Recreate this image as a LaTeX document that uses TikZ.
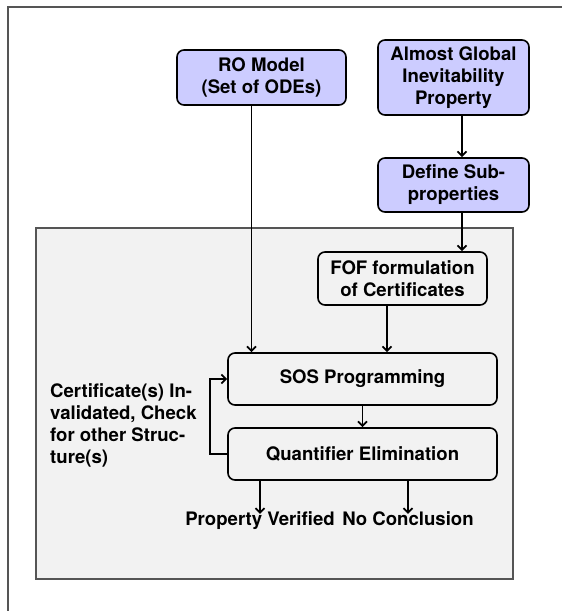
\documentclass[tikz,border=0pt]{standalone}
\usepackage{fontspec}
\setmainfont{TeX Gyre Heros}
\usepackage{xcolor}
\definecolor{boxblue}{RGB}{204,204,255}
\definecolor{panelgray}{RGB}{242,242,242}
\definecolor{framegray}{RGB}{85,85,85}
\usepackage{tikz}
\usetikzlibrary{calc}
\usetikzlibrary{arrows.meta}
\newcommand{\widthinput}{169pt}
\newcommand{\widthside}{151pt}
\newcommand{\widthstep}{269pt}
\tikzset{
    common/.style={draw, rounded corners=7pt, line width=1.6pt, align=center, inner sep=0pt,
        font=\fontsize{18.6}{22}\selectfont\bfseries},
    inbox/.style={common, fill=boxblue},
    stepbox/.style={common, fill=panelgray, minimum height=52pt},
    note/.style={inner sep=0pt, font=\fontsize{18.6}{22}\selectfont\bfseries},
    flow/.style={-{Straight Barb[length=4.5pt, width=9pt]}, line width=1.8pt}
}
\begin{document}
\begin{tikzpicture}[x=1pt, y=-1pt]
      \useasboundingbox (0,0) rectangle (562,611);
      \draw[framegray, line width=1.8pt] (8,611) -- (8,7) -- (562,7);
      \draw[framegray, fill=panelgray, line width=1.5pt] (36,228) rectangle (513,579);

      \path
          (261.5,77.5) node[inbox, minimum width=\widthinput, minimum height=55pt] (model) {RO Model\\(Set of ODEs)}
          (453.5,77.5) node[inbox, minimum width=\widthside, minimum height=75pt] (prop) {Almost Global\\Inevitability\\Property}
          (453.5,185) node[inbox, minimum width=\widthside, minimum height=54pt] (subprop) {Define Sub-\\properties}
          (402.5,278.5) node[stepbox, minimum width=\widthinput, minimum height=53pt] (fof) {FOF formulation\\of Certificates}
          (362.5,379) node[stepbox, minimum width=\widthstep] (sos) {SOS Programming}
          (362.5,454) node[stepbox, minimum width=\widthstep] (qe) {Quantifier Elimination}
          (50,425) node[note, anchor=west, align=left] (retry) {Certificate(s) In-\\validated, Check\\for other Struc-\\ture(s)}
          (260,525) node[note, anchor=base] (verified) {Property Verified}
          (408,525) node[note, anchor=base] (noconcl) {No Conclusion};

      \draw[flow] ([xshift=-10pt]model.south) -- ([xshift=-10pt]model.south |- sos.north);
      \draw[flow] ([xshift=8.5pt]prop.south) -- ([xshift=8.5pt]subprop.north);
      \draw[flow] ([xshift=8.5pt]subprop.south) -- ([xshift=8.5pt]subprop.south |- fof.north);
      \draw[flow] ([xshift=-15.5pt]fof.south) -- ([xshift=-15.5pt]fof.south |- sos.north);
      \draw[flow] (sos) -- (qe);
      \draw[flow] (qe.west) -- ++(-17,0) |- (sos.west);
      \draw[flow] (verified.north |- qe.south) -- ([yshift=-3pt]verified.north);
      \draw[flow] (noconcl.north |- qe.south) -- ([yshift=-3pt]noconcl.north);
  \end{tikzpicture}
\end{document}
